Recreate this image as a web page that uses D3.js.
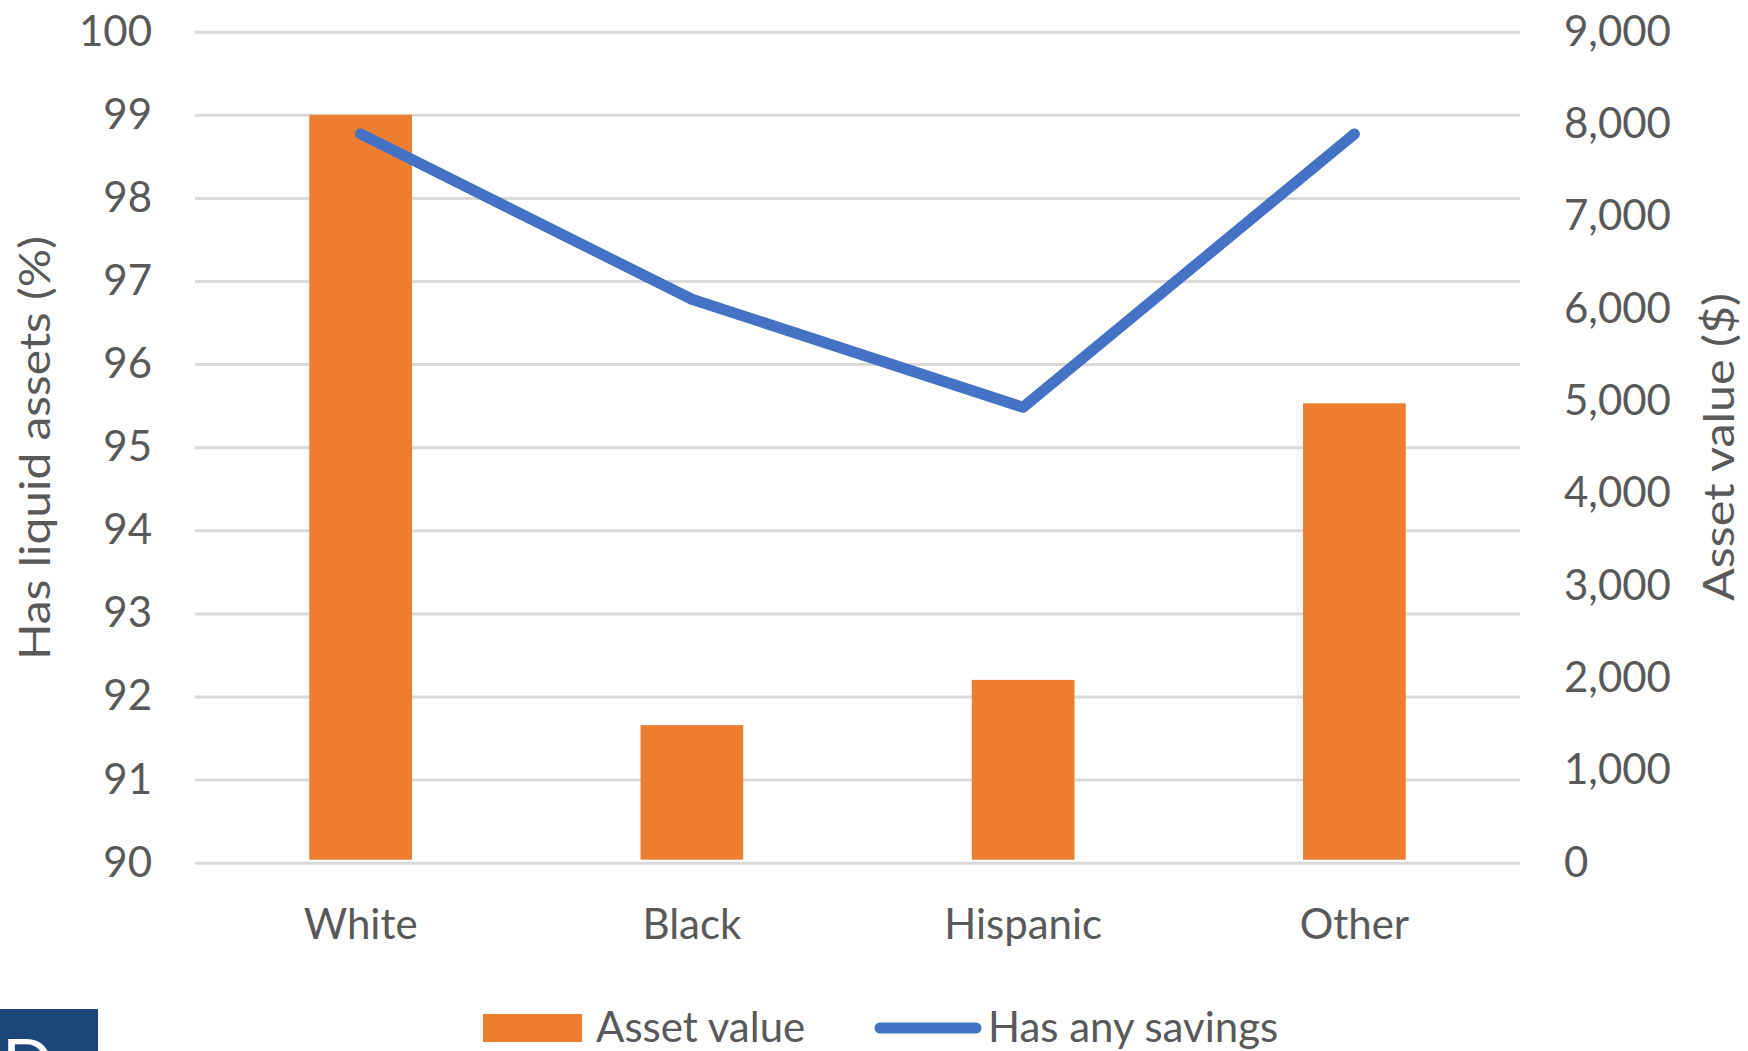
<!DOCTYPE html>
<html>
<head>
<meta charset="utf-8">
<script src="https://cdn.jsdelivr.net/npm/d3@7"></script>
<style>
  body { margin: 0; background: #fff; }
  text { font-family: Lato, "Open Sans", sans-serif; fill: #595959; }
</style>
</head>
<body>
<script>
// chart data
const groups = ["White", "Black", "Hispanic", "Other"];
const assetValue = [8100, 1490, 1980, 4975];       // bars, right axis ($)
const hasSavings = [98.77, 96.78, 95.48, 98.77];   // line, left axis (%)
const leftTicks = [90, 91, 92, 93, 94, 95, 96, 97, 98, 99, 100];
const rightTicks = [0, 1000, 2000, 3000, 4000, 5000, 6000, 7000, 8000, 9000];

const width = 1748, height = 1051;
const plot = { left: 195, right: 1520, top: 31.7, bottom: 862.7 };

const svg = d3.select("body").append("svg")
  .attr("width", width)
  .attr("height", height);

const x = d3.scaleBand()
  .domain(groups)
  .range([plot.left, plot.right])
  .padding(0);

const yLeft = d3.scaleLinear().domain([90, 100]).range([plot.bottom, plot.top]);
const yRight = d3.scaleLinear().domain([0, 9000]).range([plot.bottom, plot.top]);

// left axis + gridlines
const leftAxis = svg.append("g")
  .attr("transform", `translate(${plot.left},0)`)
  .call(d3.axisLeft(yLeft)
    .tickValues(leftTicks)
    .tickSize(-(plot.right - plot.left))
    .tickPadding(43)
    .tickFormat(d3.format("d")));
leftAxis.select(".domain").remove();
leftAxis.selectAll(".tick line").attr("stroke", "#d9d9d9").attr("stroke-width", 3);
leftAxis.selectAll(".tick text")
  .attr("font-size", 42).attr("fill", "#595959")
  .attr("font-family", "Lato, sans-serif");

// right axis
const rightAxis = svg.append("g")
  .attr("transform", `translate(${plot.right},0)`)
  .call(d3.axisRight(yRight)
    .tickValues(rightTicks)
    .tickSize(0)
    .tickPadding(44)
    .tickFormat(d3.format(",")));
rightAxis.select(".domain").remove();
rightAxis.selectAll(".tick text")
  .attr("font-size", 42).attr("fill", "#595959")
  .attr("font-family", "Lato, sans-serif");

// bars
const barW = x.bandwidth() * 0.31;
svg.append("g").selectAll("rect")
  .data(groups)
  .join("rect")
  .attr("x", (d) => x(d) + x.bandwidth() / 2 - barW / 2)
  .attr("y", (d, i) => yRight(assetValue[i]))
  .attr("width", barW)
  .attr("height", (d, i) => yRight(0) - yRight(assetValue[i]) - 3)
  .attr("fill", "#ED7D31");

// line
const line = d3.line()
  .x((d, i) => x(groups[i]) + x.bandwidth() / 2)
  .y((d) => yLeft(d));
svg.append("path")
  .datum(hasSavings)
  .attr("d", line)
  .attr("fill", "none")
  .attr("stroke", "#4472C4")
  .attr("stroke-width", 11)
  .attr("stroke-linecap", "round")
  .attr("stroke-linejoin", "round");

// x labels
const xAxis = svg.append("g")
  .attr("transform", `translate(0,${plot.bottom})`)
  .call(d3.axisBottom(x).tickSize(0).tickPadding(0));
xAxis.select(".domain").remove();
xAxis.selectAll(".tick text")
  .attr("y", 76).attr("dy", null)
  .attr("font-size", 42).attr("fill", "#595959")
  .attr("font-family", "Lato, sans-serif");

// axis titles (stretched a bit to the reference's length)
svg.append("text")
  .attr("transform", "translate(50,448) rotate(-90)")
  .attr("text-anchor", "middle")
  .attr("font-size", 42)
  .attr("textLength", 424)
  .attr("lengthAdjust", "spacingAndGlyphs")
  .text("Has liquid assets (%)");

svg.append("text")
  .attr("transform", "translate(1734,447) rotate(-90)")
  .attr("text-anchor", "middle")
  .attr("font-size", 42)
  .attr("textLength", 308)
  .attr("lengthAdjust", "spacingAndGlyphs")
  .text("Asset value ($)");

// legend
const legend = svg.append("g");
legend.append("rect")
  .attr("x", 483).attr("y", 1014).attr("width", 99).attr("height", 28)
  .attr("fill", "#ED7D31");
legend.append("text")
  .attr("x", 596).attr("y", 1042).attr("font-size", 42)
  .text("Asset value");
legend.append("line")
  .attr("x1", 880).attr("x2", 976).attr("y1", 1028).attr("y2", 1028)
  .attr("stroke", "#4472C4").attr("stroke-width", 11)
  .attr("stroke-linecap", "round");
legend.append("text")
  .attr("x", 988).attr("y", 1042).attr("font-size", 42)
  .text("Has any savings");

// cut-off logo, bottom left
svg.append("rect")
  .attr("x", 0).attr("y", 1009).attr("width", 98).attr("height", 42)
  .attr("fill", "#1B4677");
svg.append("text")
  .attr("x", 2).attr("y", 1088)
  .attr("font-family", "Liberation Serif, serif")
  .attr("font-size", 68)
  .style("fill", "#ffffff")
  .text("D");
</script>
</body>
</html>
